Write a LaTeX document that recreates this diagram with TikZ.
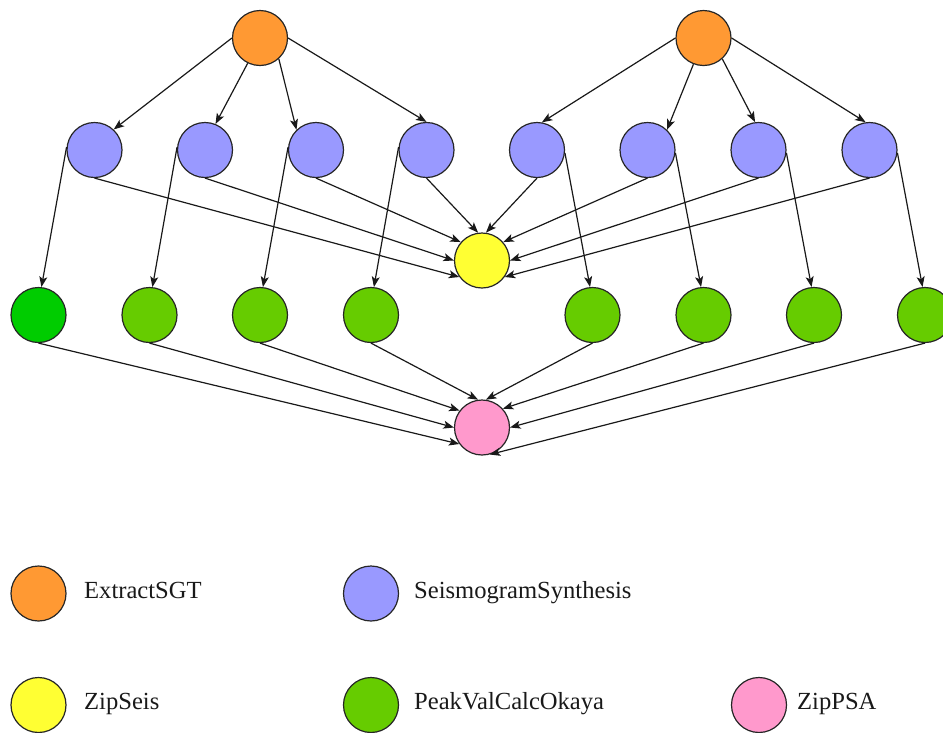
\documentclass[tikz,border=0pt]{standalone}
\usepackage{fontspec}
\setmainfont{Liberation Serif}
\usetikzlibrary{arrows.meta}
\definecolor{cOrange}{HTML}{FF9933}
\definecolor{cBlue}{HTML}{9999FF}
\definecolor{cYellow}{HTML}{FFFF33}
\definecolor{cGreen}{HTML}{66CC00}
\definecolor{cGreenDark}{HTML}{00CC00}
\definecolor{cPink}{HTML}{FF99CC}
\begin{document}
\begin{tikzpicture}[x=1pt,y=-1pt,
  job/.style={circle, draw=black!85, line width=1.2pt, minimum size=55pt, inner sep=0pt},
  edge/.style={draw=black!90, line width=1.2pt, -{Stealth[length=10.5pt,width=8pt,inset=2.5pt]}},
  lbl/.style={anchor=base west, font=\fontsize{24.6}{28}\selectfont, inner sep=0pt, text=black!90}
]
\useasboundingbox (0,0) rectangle (943,732);

% top
\node[job, fill=cOrange] (o1) at (260,38) {};
\node[job, fill=cOrange] (o2) at (703.5,38) {};
% blues
\foreach \i/\x in {1/94.5,2/205,3/316,4/426.5,5/537,6/647.5,7/758.5,8/869.5}
  \node[job, fill=cBlue] (b\i) at (\x,150) {};
% yellow
\node[job, fill=cYellow] (y) at (482,260.5) {};
% greens
\node[job, fill=cGreenDark] (g1) at (38.5,315) {};
\foreach \i/\x in {2/149.5,3/260,4/371,5/592.5,6/703.5,7/814,8/925}
  \node[job, fill=cGreen] (g\i) at (\x,315) {};
% pink
\node[job, fill=cPink] (p) at (482,427.5) {};

% orange -> blue
\draw[edge] (o1.180) -- (b1.47);
\draw[edge] (o1.244) -- (b2.68);
\draw[edge] (o1.-48) -- (b3.134);
\draw[edge] (o1.0) -- (b4.90);
\draw[edge] (o2.180) -- (b5.80);
\draw[edge] (o2.249) -- (b6.46);
\draw[edge] (o2.-48) -- (b7.97);
\draw[edge] (o2.0) -- (b8.98);

% blue -> green
\foreach \i in {1,2,3,4}
  \draw[edge] (b\i.174) -- (g\i.84);
\foreach \i in {5,6,7,8}
  \draw[edge] (b\i.-6) -- (g\i.95);

% blue -> yellow
\foreach \i/\a in {1/216,2/180,3/139,4/98,5/82,6/41,7/0,8/-36}
  \draw[edge] (b\i.south) -- (y.\a);

% green -> pink
\foreach \i/\a in {1/216,2/180,3/143,4/98,5/82,6/42,7/0,8/-74}
  \draw[edge] (g\i.south) -- (p.\a);

% legend
\node[job, fill=cOrange] (l1) at (38.5,593.5) {};
\node[lbl] (t1) at (84,598) {ExtractSGT};
\node[job, fill=cBlue] (l2) at (371,593.5) {};
\node[lbl] (t2) at (414,598) {SeismogramSynthesis};
\node[job, fill=cYellow] (l3) at (38.5,705) {};
\node[lbl] (t3) at (84,709.5) {ZipSeis};
\node[job, fill=cGreen] (l4) at (371,705) {};
\node[lbl] (t4) at (414,709.5) {PeakValCalcOkaya};
\node[job, fill=cPink] (l5) at (759,705) {};
\node[lbl] (t5) at (797,709.5) {ZipPSA};
\end{tikzpicture}
\end{document}
